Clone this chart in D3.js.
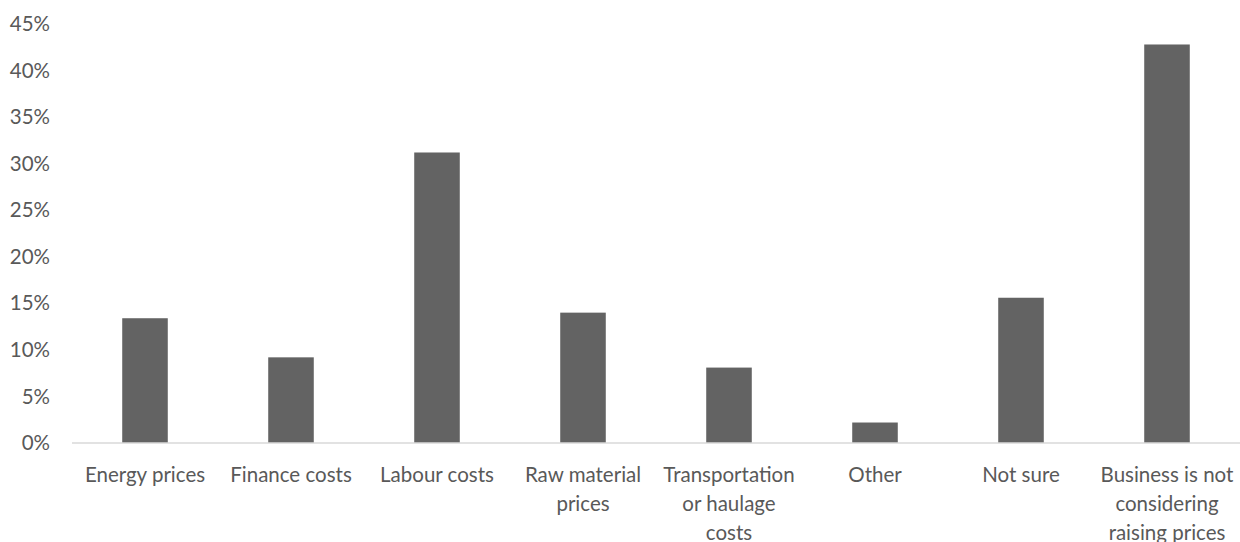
<!DOCTYPE html>
<html>
<head>
<meta charset="utf-8">
<script src="https://cdn.jsdelivr.net/npm/d3@7"></script>
<style>
  html, body { margin: 0; padding: 0; background: #fff; }
  svg { display: block; }
  text { font-family: Lato, "Open Sans", sans-serif; fill: #595959; }
</style>
</head>
<body>
<svg id="chart" width="1240" height="542"></svg>
<script>
// Reasons for considering price rises (share of businesses)
const categories = [
  ["Energy prices"],
  ["Finance costs"],
  ["Labour costs"],
  ["Raw material", "prices"],
  ["Transportation", "or haulage", "costs"],
  ["Other"],
  ["Not sure"],
  ["Business is not", "considering", "raising prices"]
];
const values = [13.4, 9.2, 31.2, 14.0, 8.1, 2.2, 15.6, 42.8];
const yTicks = [0, 5, 10, 15, 20, 25, 30, 35, 40, 45];

const svg = d3.select("#chart");
const margin = { top: 24, right: 0, bottom: 99, left: 72 };
const W = 1240, H = 542;
const fontSize = 20.5;

const keys = categories.map(c => c.join(" "));
const x = d3.scaleBand()
  .domain(keys)
  .range([margin.left, W - margin.right])
  .paddingInner(0.688)
  .paddingOuter(0.344);

const y = d3.scaleLinear()
  .domain([0, 45])
  .range([H - margin.bottom, margin.top]);

// y axis labels (no line, no ticks)
const yAxis = d3.axisLeft(y)
  .tickValues(yTicks)
  .tickFormat(d => d + "%")
  .tickSize(0)
  .tickPadding(22);
const gy = svg.append("g")
  .attr("transform", `translate(${margin.left},0)`)
  .call(yAxis);
gy.select(".domain").remove();
gy.selectAll("text").attr("font-size", fontSize).style("fill", "#595959")
  .style("font-family", "Lato, 'Open Sans', sans-serif");

// bars
svg.append("g").selectAll("rect")
  .data(values)
  .join("rect")
  .attr("x", (d, i) => x(keys[i]))
  .attr("width", x.bandwidth())
  .attr("y", d => y(d))
  .attr("height", d => y(0) - y(d))
  .attr("fill", "#636363");

// x axis baseline
const xAxis = d3.axisBottom(x).tickSize(0).tickFormat("");
const gx = svg.append("g")
  .attr("transform", `translate(0,${y(0)})`)
  .call(xAxis);
gx.select(".domain").attr("stroke", "#d9d9d9").attr("stroke-width", 1.5)
  .attr("d", `M${margin.left},0H${W}`);

// multi-line category labels
const labels = svg.append("g");
categories.forEach((lines, i) => {
  const cx = x(keys[i]) + x.bandwidth() / 2;
  const t = labels.append("text")
    .attr("x", cx)
    .attr("y", y(0) + 39)
    .attr("text-anchor", "middle")
    .attr("font-size", fontSize);
  lines.forEach((ln, j) => {
    t.append("tspan")
      .attr("x", cx)
      .attr("dy", j === 0 ? 0 : 29)
      .text(ln);
  });
});
</script>
</body>
</html>
